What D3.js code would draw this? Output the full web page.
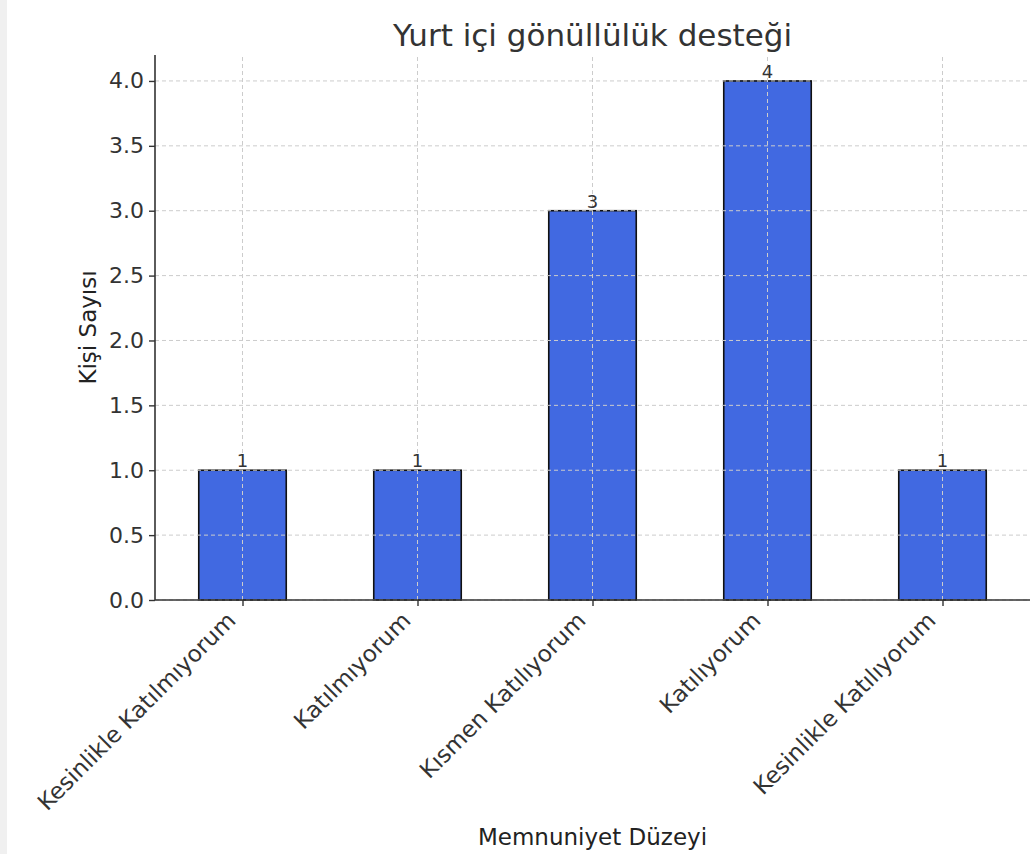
<!DOCTYPE html>
<html>
<head>
<meta charset="utf-8">
<script src="https://cdn.jsdelivr.net/npm/d3@7"></script>
<style>
  body { margin: 0; background: #fff; }
  svg { display: block; font-family: "DejaVu Sans", sans-serif; }
</style>
</head>
<body>
<script>
// Data
const categories = ["Kesinlikle Katılmıyorum", "Katılmıyorum", "Kısmen Katılıyorum", "Katılıyorum", "Kesinlikle Katılıyorum"];
const counts = [1, 1, 3, 4, 1];
const yTicks = [0, 0.5, 1, 1.5, 2, 2.5, 3, 3.5, 4];

const width = 1031, height = 854;
const margin = { left: 155, right: 1, top: 55, bottom: 254 };

const svg = d3.select("body").append("svg")
    .attr("width", width)
    .attr("height", height);

// gray strip on the left edge
svg.append("rect").attr("x", 0).attr("y", 0).attr("width", 7).attr("height", height).attr("fill", "#f0f0f0");

const x = d3.scaleLinear().domain([-0.5, 4.5]).range([margin.left, width - margin.right]);
const y = d3.scaleLinear().domain([0, 4.2]).range([height - margin.bottom, margin.top]);
const barW = x(0.5) - x(0);

// Bars
svg.append("g")
    .selectAll("rect")
    .data(counts)
    .join("rect")
    .attr("x", (d, i) => x(i) - barW / 2)
    .attr("y", d => y(d))
    .attr("width", barW)
    .attr("height", d => y(0) - y(d))
    .attr("fill", "#4169e1")
    .attr("stroke", "#111")
    .attr("stroke-width", 1.6);

// Grid (drawn above bars)
const grid = svg.append("g").attr("stroke", "#cccccc").attr("stroke-dasharray", "4,3").attr("stroke-width", 1);
grid.selectAll(".gy").data(yTicks).join("line")
    .attr("x1", x(-0.5)).attr("x2", x(4.5))
    .attr("y1", d => y(d)).attr("y2", d => y(d));
grid.selectAll(".gx").data(categories).join("line")
    .attr("x1", (d, i) => x(i)).attr("x2", (d, i) => x(i))
    .attr("y1", y(0)).attr("y2", y(4.2));

// Value labels
svg.append("g")
    .selectAll("text")
    .data(counts)
    .join("text")
    .attr("x", (d, i) => x(i))
    .attr("y", d => y(d) - 3)
    .attr("text-anchor", "middle")
    .attr("font-size", 18)
    .attr("fill", "#333")
    .text(d => d);

// Y axis
const yAxis = svg.append("g")
    .attr("transform", `translate(${margin.left},0)`)
    .call(d3.axisLeft(y).tickValues(yTicks).tickFormat(d3.format(".1f")).tickSize(6).tickPadding(5));
yAxis.select(".domain").attr("stroke", "#333").attr("stroke-width", 1.6).attr("d", `M0,${y(4.2)}V${y(0)}`);
yAxis.selectAll(".tick line").attr("stroke", "#333").attr("stroke-width", 1.4);
yAxis.selectAll(".tick text").attr("font-size", 22).attr("fill", "#333").attr("font-family", "DejaVu Sans");

// X axis
const xAxis = svg.append("g")
    .attr("transform", `translate(0,${y(0)})`)
    .call(d3.axisBottom(x).tickValues(d3.range(categories.length)).tickFormat(i => categories[i]).tickSize(6));
xAxis.select(".domain").attr("stroke", "#333").attr("stroke-width", 1.6).attr("d", `M${x(-0.5)},0H${x(4.5)}`);
xAxis.selectAll(".tick line").attr("stroke", "#333").attr("stroke-width", 1.4);
xAxis.selectAll(".tick text")
    .attr("font-size", 23)
    .attr("fill", "#333")
    .attr("font-family", "DejaVu Sans")
    .attr("text-anchor", "end")
    .attr("x", 0)
    .attr("y", 0)
    .attr("dy", 0)
    .attr("transform", "translate(-6,22) rotate(-45)");

// Title and axis labels
svg.append("text")
    .attr("x", x(2)).attr("y", 46)
    .attr("text-anchor", "middle")
    .attr("font-size", 31)
    .attr("fill", "#333")
    .text("Yurt içi gönüllülük desteği");

svg.append("text")
    .attr("transform", `translate(96,${(y(0) + y(4.2)) / 2}) rotate(-90)`)
    .attr("text-anchor", "middle")
    .attr("font-size", 23)
    .attr("fill", "#222")
    .text("Kişi Sayısı");

svg.append("text")
    .attr("x", x(2)).attr("y", 845)
    .attr("text-anchor", "middle")
    .attr("font-size", 23)
    .attr("fill", "#222")
    .text("Memnuniyet Düzeyi");
</script>
</body>
</html>
